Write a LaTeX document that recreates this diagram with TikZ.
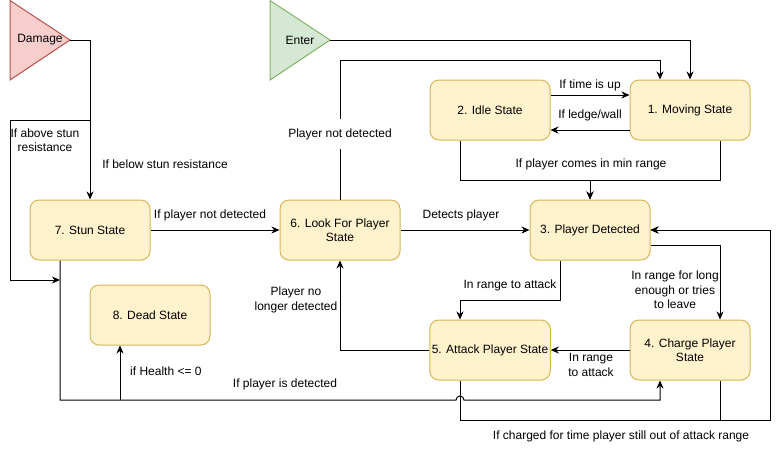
\documentclass[tikz,border=0pt]{standalone}
\usepackage{fontspec}
\setmainfont{Liberation Sans}
\usetikzlibrary{arrows.meta}
\definecolor{colBoxFill}{HTML}{FFF2CC}
\definecolor{colBoxLine}{HTML}{D6B656}
\definecolor{colDmgFill}{HTML}{F8CECC}
\definecolor{colDmgLine}{HTML}{B85450}
\definecolor{colEntFill}{HTML}{D5E8D4}
\definecolor{colEntLine}{HTML}{82B366}
\def\boxfont{\fontsize{12pt}{14.5pt}\selectfont}
\def\lblfont{\fontsize{12pt}{14.5pt}\selectfont}
\tikzset{
  stateBox/.style={draw=colBoxLine, fill=colBoxFill, line width=1pt, rounded corners=9pt,
    minimum width=120pt, minimum height=60pt, align=center, font=\boxfont, inner sep=2pt},
  flowArr/.style={draw=black, line width=1pt, -{Stealth[length=8pt,width=7pt,inset=2.5pt]}},
  flowLine/.style={draw=black, line width=1pt},
  edgeLbl/.style={font=\lblfont, align=center, inner sep=1pt},
}

\begin{document}
\begin{tikzpicture}[x=1pt,y=-1pt]
\useasboundingbox (0,0) rectangle (779,451);

% ===================== ENTRY TRIANGLES =====================
\draw[draw=colDmgLine, fill=colDmgFill, line width=1pt] (10,0.5) -- (70,40) -- (10,80) -- cycle;
\node[edgeLbl] (dmg) at (40,40) {Damage};
\coordinate (dmgTip) at (70,40);
\draw[draw=colEntLine, fill=colEntFill, line width=1pt] (270,0.5) -- (330,40) -- (270,80) -- cycle;
\node[edgeLbl] (ent) at (300,40) {Enter};
\coordinate (entTip) at (330,40);

% ===================== STATES =====================
\node[stateBox] (move) at (690,110) {1. Moving State};
\node[stateBox] (idle) at (490,110) {2. Idle State};
\node[stateBox] (det)  at (590,230) {3. Player Detected};
\node[stateBox] (chg)  at (690,350) {4. Charge Player\\State};
\node[stateBox] (atk)  at (490,350) {5. Attack Player State};
\node[stateBox] (look) at (340,230) {6. Look For Player\\State};
\node[stateBox] (stun) at (90,230)  {7. Stun State};
\node[stateBox] (dead) at (150,315) {8. Dead State};

\coordinate (dmgSplit) at (90,120);
\coordinate (stunJoin) at (60,280);
\coordinate (minJoin)  at (590,180);
\coordinate (backJoin) at (770,420);

% ===================== DAMAGE / STUN =====================
\draw[flowArr] (dmgTip) -| (stun.north);
\node[edgeLbl] (lblBelow) at (165,164) {If below stun resistance};
\draw[flowArr] (dmgSplit) -| (10,280) -- (stunJoin);
\node[edgeLbl] (lblAbove) at (45,140) {If above stun\\resistance};

\draw[flowArr] ([xshift=-30pt]stun.south) -- (60,400) -- (456,400)
  arc[start angle=180, end angle=0, radius=4pt] -- (660,400) -- ([xshift=-30pt]chg.south);
\node[edgeLbl] (lblIsDet) at (285,384) {If player is detected};
\draw[flowArr] (120,400) -- ([xshift=-30pt]dead.south);
\node[edgeLbl, anchor=west] (lblHealth) at (129,371) {if Health <= 0};

\draw[flowArr] (stun.east) -- (look.west);
\node[edgeLbl] (lblNotDet) at (210,215) {If player not detected};

% ===================== LOOK FOR / ENTER =====================
\draw[flowArr] (look.north) -- (340,60) -| ([xshift=-30pt]move.north);
\node[edgeLbl, fill=white, minimum height=30pt] (lblLost) at (340,134) {Player not detected};
\draw[flowArr] (entTip) -| (move.north);

\draw[flowArr] (look.east) -- (det.west);
\node[edgeLbl] (lblDetects) at (461,215) {Detects player};

% ===================== IDLE / MOVING =====================
\draw[flowArr] ([yshift=15pt]idle.east) -- ([yshift=15pt]move.west);
\node[edgeLbl] (lblTime) at (590,85) {If time is up};
\draw[flowArr] ([yshift=-20pt]move.west) -- ([yshift=-20pt]idle.east);
\node[edgeLbl] (lblLedge) at (590,115) {If ledge/wall};

\draw[flowArr] ([xshift=-30pt]idle.south) |- (minJoin) -- (det.north);
\draw[flowArr] ([xshift=30pt]move.south) |- (minJoin) -- (det.north);
\node[edgeLbl] (lblMin) at (591,164) {If player comes in min range};

% ===================== DETECTED / ATTACK / CHARGE =====================
\draw[flowArr] ([xshift=-30pt]det.south) -- (560,300) -| ([xshift=-30pt]atk.north);
\node[edgeLbl] (lblRange) at (510,285) {In range to attack};
\draw[flowArr] ([yshift=-15pt]det.east) -| ([xshift=30pt]chg.north);
\node[edgeLbl] (lblLong) at (675,290) {In range for long\\enough or tries\\to leave};

\draw[flowArr] (chg.west) -- (atk.east);
\node[edgeLbl] (lblRange2) at (591,365) {In range\\to attack};
\draw[flowArr] (atk.west) -| (look.south);
\node[edgeLbl] (lblNoLonger) at (296,300) {Player no\\longer detected};

\draw[flowArr] ([xshift=-30pt]atk.south) -- (460,420) -- (backJoin) |- (det.east);
\draw[flowArr] ([xshift=30pt]chg.south) -- (720,420) -- (backJoin) |- (det.east);
\node[edgeLbl] (lblCharged) at (621,436) {If charged for time player still out of attack range};
\end{tikzpicture}
\end{document}
